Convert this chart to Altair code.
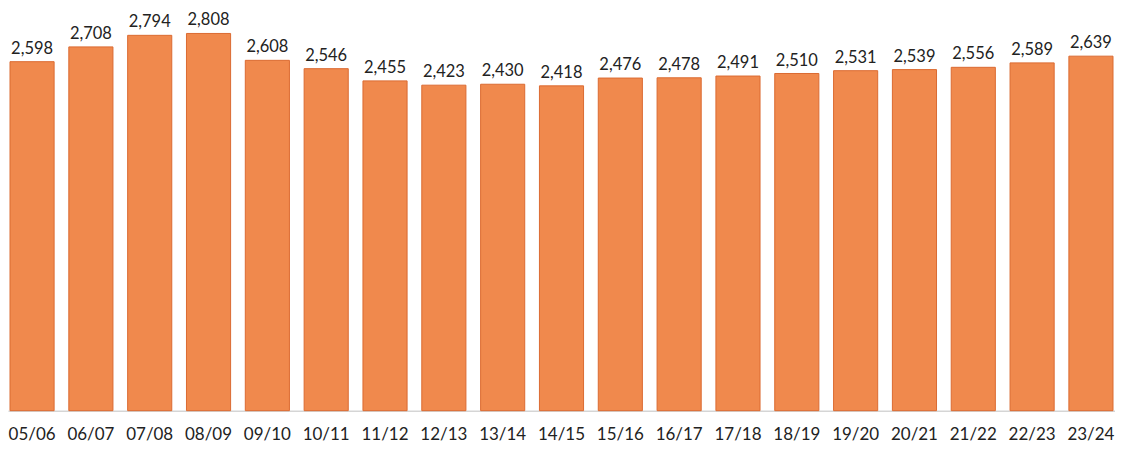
import altair as alt
import pandas as pd

seasons = ["05/06", "06/07", "07/08", "08/09", "09/10", "10/11", "11/12", "12/13",
           "13/14", "14/15", "15/16", "16/17", "17/18", "18/19", "19/20", "20/21",
           "21/22", "22/23", "23/24"]
values = [2598, 2708, 2794, 2808, 2608, 2546, 2455, 2423, 2430, 2418, 2476, 2478,
          2491, 2510, 2531, 2539, 2556, 2589, 2639]

df = pd.DataFrame({"season": seasons, "value": values})

x = alt.X("season:N", sort=seasons, title=None,
          scale=alt.Scale(paddingInner=0.25, paddingOuter=0.034),
          axis=alt.Axis(labelAngle=0, ticks=False, labelPadding=16, labelFontSize=17,
                        labelFont="Lato", labelColor="#222222", domainColor="#D5D5D5",
                        domainWidth=1.5, grid=False))
y = alt.Y("value:Q", scale=alt.Scale(domain=[0, 2950], nice=False, zero=True),
          axis=None)

bars = alt.Chart(df).mark_bar(color="#F0894D", stroke="#DB6A31", strokeWidth=1).encode(x=x, y=y)
labels = alt.Chart(df).mark_text(baseline="bottom", dy=-5, fontSize=16.5, font="Lato",
                                 color="#222222").encode(
    x=alt.X("season:N", sort=seasons), y="value:Q", text=alt.Text("value:Q", format=","))

chart = (bars + labels).properties(
    width=1109, height=397,
    autosize=alt.AutoSizeParams(type="none"),
    padding={"top": 6, "left": 0, "right": 0, "bottom": 38}
).configure_view(stroke=None)
chart.save("out.html", embed_options={"renderer": "svg", "actions": False})
